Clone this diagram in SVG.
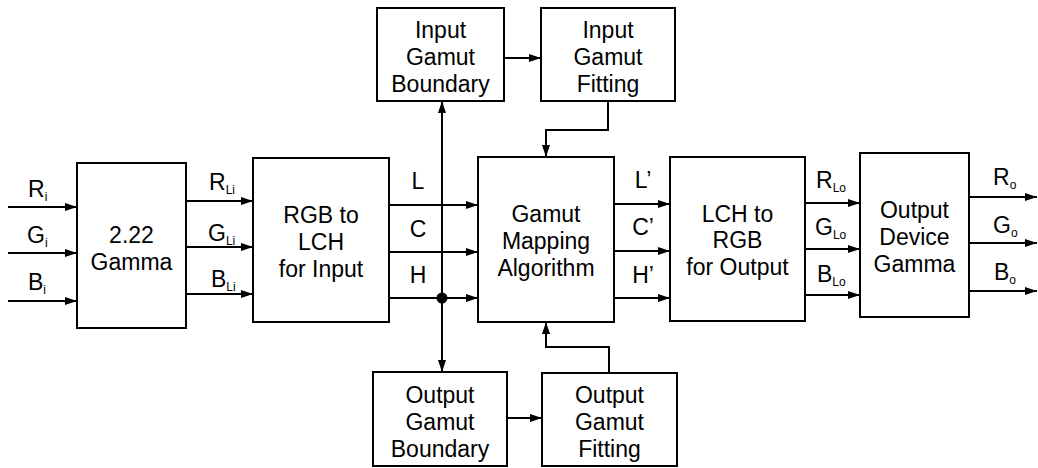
<svg xmlns="http://www.w3.org/2000/svg" width="1038" height="468" viewBox="0 0 1038 468">
<style>
.box{fill:#fff;stroke:#000;stroke-width:2}
.ln{fill:none;stroke:#000;stroke-width:2}
text{font-family:"Liberation Sans",Arial,sans-serif;font-size:23px;fill:#000}
.c{text-anchor:middle}
.s{font-size:12px}
</style>
<defs>
<marker id="a" viewBox="0 0 12 8" refX="12" refY="4" markerWidth="12" markerHeight="8" markerUnits="userSpaceOnUse" orient="auto">
<path d="M0,0 L12,4 L0,8 Z" fill="#000"/>
</marker>
</defs>
<g id="connectors">
<path class="ln" d="M8,207 H77" marker-end="url(#a)"/>
<path class="ln" d="M8,253 H77" marker-end="url(#a)"/>
<path class="ln" d="M8,301 H77" marker-end="url(#a)"/>
<path class="ln" d="M186,201 H253" marker-end="url(#a)"/>
<path class="ln" d="M186,247 H253" marker-end="url(#a)"/>
<path class="ln" d="M186,294 H253" marker-end="url(#a)"/>
<path class="ln" d="M389,205 H478" marker-end="url(#a)"/>
<path class="ln" d="M389,252 H478" marker-end="url(#a)"/>
<path class="ln" d="M389,298 H478" marker-end="url(#a)"/>
<path class="ln" d="M442,298 V101" marker-end="url(#a)"/>
<path class="ln" d="M442,298 V372" marker-end="url(#a)"/>
<circle cx="442" cy="298" r="5.5" fill="#000"/>
<path class="ln" d="M504,58 H541" marker-end="url(#a)"/>
<path class="ln" d="M608,101 V130 H546 V157" marker-end="url(#a)"/>
<path class="ln" d="M507,418 H542" marker-end="url(#a)"/>
<path class="ln" d="M609,373 V347 H546 V322" marker-end="url(#a)"/>
<path class="ln" d="M614,204 H670" marker-end="url(#a)"/>
<path class="ln" d="M614,251 H670" marker-end="url(#a)"/>
<path class="ln" d="M614,298 H670" marker-end="url(#a)"/>
<path class="ln" d="M805,203 H860" marker-end="url(#a)"/>
<path class="ln" d="M805,249 H860" marker-end="url(#a)"/>
<path class="ln" d="M805,295 H860" marker-end="url(#a)"/>
<path class="ln" d="M969,197 H1037" marker-end="url(#a)"/>
<path class="ln" d="M969,243 H1037" marker-end="url(#a)"/>
<path class="ln" d="M969,291 H1037" marker-end="url(#a)"/>
</g>
<g id="labels">
<text x="28" y="197">R<tspan class="s" dy="4">i</tspan></text>
<text x="27" y="243">G<tspan class="s" dy="4">i</tspan></text>
<text x="28" y="290">B<tspan class="s" dy="4">i</tspan></text>
<text x="209" y="190">R<tspan class="s" dy="4">Li</tspan></text>
<text x="208" y="241">G<tspan class="s" dy="4">Li</tspan></text>
<text x="211" y="287">B<tspan class="s" dy="4">Li</tspan></text>
<text x="418" y="189" class="c">L</text>
<text x="418" y="237" class="c">C</text>
<text x="418" y="283" class="c">H</text>
<text x="643" y="188" class="c">L’</text>
<text x="643" y="235" class="c">C’</text>
<text x="643" y="283" class="c">H’</text>
<text x="816" y="188">R<tspan class="s" dy="4">Lo</tspan></text>
<text x="815" y="235">G<tspan class="s" dy="4">Lo</tspan></text>
<text x="817" y="282">B<tspan class="s" dy="4">Lo</tspan></text>
<text x="993" y="185">R<tspan class="s" dy="4">o</tspan></text>
<text x="993" y="233">G<tspan class="s" dy="4">o</tspan></text>
<text x="994" y="280">B<tspan class="s" dy="4">o</tspan></text>
</g>
<g id="gamma">
<rect class="box" x="77" y="163" width="109" height="165"/>
<text class="c" x="131.5" y="243">2.22</text>
<text class="c" x="131.5" y="270">Gamma</text>
</g>
<g id="rgb2lch">
<rect class="box" x="253" y="158" width="136" height="164"/>
<text class="c" x="321" y="223">RGB to</text>
<text class="c" x="321" y="250">LCH</text>
<text class="c" x="321" y="277">for Input</text>
</g>
<g id="igb">
<rect class="box" x="377" y="8" width="127" height="93"/>
<text class="c" x="440.5" y="38">Input</text>
<text class="c" x="440.5" y="65">Gamut</text>
<text class="c" x="440.5" y="92">Boundary</text>
</g>
<g id="igf">
<rect class="box" x="541" y="8" width="134" height="93"/>
<text class="c" x="608" y="38">Input</text>
<text class="c" x="608" y="65">Gamut</text>
<text class="c" x="608" y="92">Fitting</text>
</g>
<g id="gma">
<rect class="box" x="478" y="157" width="136" height="165"/>
<text class="c" x="546" y="222">Gamut</text>
<text class="c" x="546" y="249">Mapping</text>
<text class="c" x="546" y="276">Algorithm</text>
</g>
<g id="ogb">
<rect class="box" x="373" y="372" width="134" height="94"/>
<text class="c" x="440" y="403">Output</text>
<text class="c" x="440" y="430">Gamut</text>
<text class="c" x="440" y="457">Boundary</text>
</g>
<g id="ogf">
<rect class="box" x="542" y="373" width="135" height="93"/>
<text class="c" x="609.5" y="403">Output</text>
<text class="c" x="609.5" y="430">Gamut</text>
<text class="c" x="609.5" y="457">Fitting</text>
</g>
<g id="lch2rgb">
<rect class="box" x="670" y="157" width="135" height="164"/>
<text class="c" x="737.5" y="222">LCH to</text>
<text class="c" x="737.5" y="248">RGB</text>
<text class="c" x="737.5" y="275">for Output</text>
</g>
<g id="odg">
<rect class="box" x="860" y="153" width="109" height="164"/>
<text class="c" x="914.5" y="218">Output</text>
<text class="c" x="914.5" y="245">Device</text>
<text class="c" x="914.5" y="272">Gamma</text>
</g>
</svg>
